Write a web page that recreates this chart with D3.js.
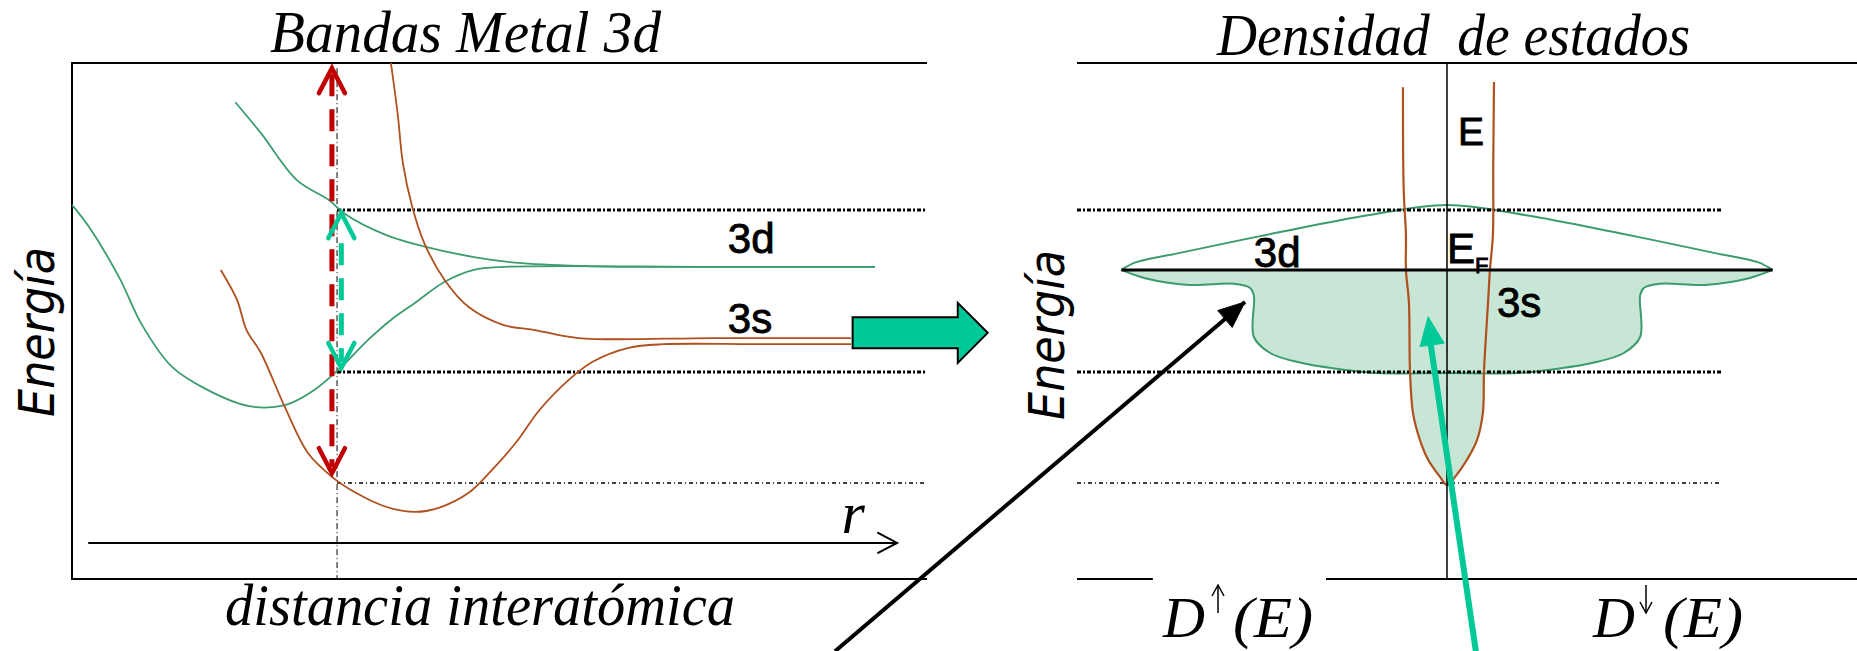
<!DOCTYPE html>
<html>
<head>
<meta charset="utf-8">
<script src="https://cdn.jsdelivr.net/npm/d3@7"></script>
<style>
  html, body { margin: 0; padding: 0; background: #fff; }
  svg { display: block; }
  .serif { font-family: 'Liberation Serif', 'Times New Roman', serif; font-style: italic; fill: #000; }
  .sans  { font-family: 'Liberation Sans', Arial, sans-serif; fill: #000; stroke: #000; stroke-width: 0.9; }
  .ener  { font-family: 'DejaVu Sans', Verdana, sans-serif; font-style: oblique; fill: #000; }
</style>
</head>
<body>
<div id="chart"></div>
<script>
// ── DATA: LEFT PANEL (r in arbitrary units 0–10, energy 0–10) ────────────────
const band3dUpper = [[1.91,9.24],[2.21,8.64],[2.63,7.73],[3.01,7.34],[3.18,7.09],[3.67,6.67],
  [4.15,6.43],[4.70,6.24],[5.26,6.12],[6.09,6.06],[7.5,6.05],[9.39,6.05]];
const band3dLower = [[0,7.25],[0.20,6.82],[0.55,5.85],[0.82,4.92],[1.17,4.11],[1.59,3.66],
  [2.07,3.35],[2.49,3.37],[2.83,3.66],[3.15,4.11],[3.46,4.63],[3.73,5.02],[4.01,5.35],
  [4.36,5.76],[4.70,5.99],[5.05,6.05],[7.5,6.05],[9.39,6.05]];
const band3sUpper = [[3.73,10.0],[3.81,9.0],[3.87,8.06],[3.98,7.21],[4.12,6.51],[4.36,5.79],
  [4.64,5.27],[5.05,4.92],[5.40,4.83],[5.92,4.67],[7.5,4.67],[9.11,4.67]];
const band3sLower = [[1.74,5.99],[1.93,5.41],[2.04,4.83],[2.21,4.38],[2.49,3.33],[2.76,2.44],
  [3.04,1.98],[3.32,1.67],[3.67,1.40],[4.01,1.30],[4.29,1.38],[4.64,1.67],[4.91,2.11],
  [5.19,2.64],[5.47,3.28],[5.81,3.86],[6.09,4.21],[6.51,4.48],[6.92,4.55],[8.0,4.55],[9.11,4.55]];
const levels      = [7.15, 4.01, 1.86];   // band top, 3d bottom, 3s bottom
const rEq         = 3.10;                 // equilibrium distance
const redArrowE   = [2.05, 9.90];
const tealArrowE  = [4.09, 7.09];
const bigArrowR   = [9.13, 10.36, 10.71]; // shaft start, head base, tip
const bigArrowE   = 4.77;

// ── DATA: RIGHT PANEL (density of states, magnitude per spin) ────────────────
const dos3dTop    = [[0,7.25],[2.14,7.05],[4.54,6.72],[7.22,6.32],[8.4,6.14],[8.8,5.99]];
const dos3dBottom = [[0,3.99],[1.89,3.99],[2.73,4.05],[3.95,4.19],[4.78,4.38],[5.22,4.69],
  [5.22,5.50],[5.32,5.64],[5.76,5.72],[6.97,5.70],[8.16,5.83],[8.8,5.99]];
const dos3sUp     = [[1.19,9.53],[1.17,7.54],[1.11,6.67],[1.11,5.99],[1.03,5.37],[1.0,4.03],
  [0.92,3.22],[0.73,2.69],[0.51,2.31],[0.19,1.98],[0,1.82]];
const dos3sDown   = [[1.27,9.63],[1.25,8.0],[1.24,6.67],[1.16,5.99],[1.11,5.37],[1.0,4.03],
  [0.97,3.22],[0.81,2.69],[0.54,2.31],[0.22,1.98],[0,1.82]];
const fermiE      = 5.99;

// ── COLOURS ──────────────────────────────────────────────────────────────────
const GREEN = '#3c9c6e', BROWN = '#b0501e', FILL = '#c8e6d5', TEAL = '#00c896', RED = '#c00000';

// ── SVG SETUP ────────────────────────────────────────────────────────────────
const W = 1857, H = 651;
const svg = d3.select('#chart').append('svg').attr('width', W).attr('height', H);

// ── SCALES ───────────────────────────────────────────────────────────────────
const xL = d3.scaleLinear().domain([0, 10]).range([72, 927]);
const xR = d3.scaleLinear().domain([-10, 10]).range([1077, 1817]);
const y  = d3.scaleLinear().domain([0, 10]).range([579, 63]);

const smooth = d3.curveCatmullRom.alpha(0.5);
const lineL = d3.line().x(d => xL(d[0])).y(d => y(d[1])).curve(smooth);
const lineR = d3.line().x(d => xR(d[0])).y(d => y(d[1])).curve(smooth);

function arrowHead(g, tip, from, len, half, color, filled, sw) {
  const dx = tip[0] - from[0], dy = tip[1] - from[1];
  const L = Math.hypot(dx, dy), ux = dx / L, uy = dy / L;
  const bx = tip[0] - ux * len, by = tip[1] - uy * len;
  const p1 = [bx - uy * half, by + ux * half], p2 = [bx + uy * half, by - ux * half];
  const p = `M${p1}L${tip}L${p2}` + (filled ? 'Z' : '');
  g.append('path').attr('d', p)
    .attr('fill', filled ? color : 'none')
    .attr('stroke', color).attr('stroke-width', sw)
    .attr('stroke-linejoin', 'miter').attr('stroke-linecap', 'round');
}

// ── LEFT PANEL ───────────────────────────────────────────────────────────────
const left = svg.append('g');

// frame (top, left, bottom)
left.append('path')
  .attr('d', `M${xL(10)},${y(10)}H${xL(0)}V${y(0)}H${xL(10)}`)
  .attr('fill', 'none').attr('stroke', '#000').attr('stroke-width', 2);

// reference levels
levels.forEach((e, i) => {
  left.append('line')
    .attr('x1', xL(rEq)).attr('x2', xL(10)).attr('y1', y(e)).attr('y2', y(e))
    .attr('stroke', '#000')
    .attr('stroke-width', i < 2 ? 3 : 1.3)
    .attr('stroke-dasharray', i < 2 ? '4,2,2,2' : '4,3,1,3');
});

// equilibrium distance (dash-dot)
left.append('line')
  .attr('x1', xL(rEq)).attr('x2', xL(rEq)).attr('y1', y(redArrowE[1])).attr('y2', y(0))
  .attr('stroke', '#000').attr('stroke-width', 1).attr('stroke-dasharray', '6,3,1,3');

// bands
[[band3dUpper, GREEN], [band3dLower, GREEN], [band3sUpper, BROWN], [band3sLower, BROWN]]
  .forEach(([d, c]) => {
    left.append('path').attr('d', lineL(d))
      .attr('fill', 'none').attr('stroke', c).attr('stroke-width', 1.8);
  });

// r axis
const rAxisE = 0.70;
left.append('line')
  .attr('x1', xL(0.19)).attr('x2', xL(9.65)).attr('y1', y(rAxisE)).attr('y2', y(rAxisE))
  .attr('stroke', '#000').attr('stroke-width', 2);
arrowHead(left, [xL(9.65), y(rAxisE)], [xL(0), y(rAxisE)], 19, 10, '#000', false, 2);

// red dashed double arrow
const xRed = xL(3.04);
left.append('line')
  .attr('x1', xRed).attr('x2', xRed).attr('y1', y(redArrowE[1]) + 6).attr('y2', y(redArrowE[0]) - 6)
  .attr('stroke', RED).attr('stroke-width', 5).attr('stroke-dasharray', '22,13');
arrowHead(left, [xRed, y(redArrowE[1])], [xRed, y(0)], 25, 13, RED, false, 4.5);
arrowHead(left, [xRed, y(redArrowE[0])], [xRed, y(10)], 25, 13, RED, false, 4.5);

// teal dashed double arrow
const xTeal = xL(3.15);
left.append('line')
  .attr('x1', xTeal).attr('x2', xTeal).attr('y1', y(tealArrowE[1]) + 30).attr('y2', y(tealArrowE[0]) - 6)
  .attr('stroke', TEAL).attr('stroke-width', 5).attr('stroke-dasharray', '22,13');
arrowHead(left, [xTeal, y(tealArrowE[1])], [xTeal, y(0)], 25, 13, TEAL, false, 4.5);
arrowHead(left, [xTeal, y(tealArrowE[0])], [xTeal, y(10)], 25, 13, TEAL, false, 4.5);

// big green block arrow
{
  const x0 = xL(bigArrowR[0]), xb = xL(bigArrowR[1]), xt = xL(bigArrowR[2]), cy = y(bigArrowE);
  const pts = [[x0, cy - 15.5], [xb, cy - 15.5], [xb, cy - 30], [xt, cy], [xb, cy + 30],
               [xb, cy + 15.5], [x0, cy + 15.5]];
  svg.append('path').attr('d', 'M' + pts.join('L') + 'Z')
    .attr('fill', TEAL).attr('stroke', '#000').attr('stroke-width', 2);
}

// labels
left.append('text').attr('class', 'sans').attr('x', xL(7.67)).attr('y', y(6.32))
  .attr('font-size', 42).text('3d');
left.append('text').attr('class', 'sans').attr('x', xL(7.67)).attr('y', y(4.77))
  .attr('font-size', 42).text('3s');
left.append('text').attr('class', 'serif').attr('x', xL(9.0)).attr('y', y(0.89))
  .attr('font-size', 60).text('r');

svg.append('text').attr('class', 'serif').attr('x', 270).attr('y', 52)
  .attr('font-size', 60).attr('textLength', 391).attr('lengthAdjust', 'spacingAndGlyphs')
  .text('Bandas Metal 3d');
svg.append('text').attr('class', 'serif').attr('x', 225).attr('y', 625)
  .attr('font-size', 60).attr('textLength', 510).attr('lengthAdjust', 'spacingAndGlyphs')
  .text('distancia interatómica');
svg.append('text').attr('class', 'ener').attr('transform', 'translate(54,332) rotate(-90)')
  .attr('text-anchor', 'middle').attr('font-size', 50)
  .attr('textLength', 170).attr('lengthAdjust', 'spacingAndGlyphs').text('Energía');

// ── RIGHT PANEL ──────────────────────────────────────────────────────────────
const right = svg.append('g');
const neg = ([d, e]) => [-d, e];

// 3d band, below Fermi level (filled)
const bottomOutline = dos3dBottom.slice().reverse().map(neg).concat(dos3dBottom.slice(1));
right.append('path').attr('d', lineR(bottomOutline) + 'Z')
  .attr('fill', FILL).attr('stroke', 'none');

// 3s band, below Fermi level (filled)
const s3Left  = dos3sUp.filter(d => d[1] <= fermiE).map(neg);
const s3Right = dos3sDown.filter(d => d[1] <= fermiE).reverse().slice(1);
right.append('path').attr('d', lineR(s3Left.concat(s3Right)) + 'Z')
  .attr('fill', FILL).attr('stroke', 'none');

// 3d outlines
right.append('path').attr('d', lineR(bottomOutline))
  .attr('fill', 'none').attr('stroke', GREEN).attr('stroke-width', 2);
const topOutline = dos3dTop.slice().reverse().map(neg).concat(dos3dTop.slice(1));
right.append('path').attr('d', lineR(topOutline))
  .attr('fill', 'none').attr('stroke', GREEN).attr('stroke-width', 2);

// reference levels
levels.forEach((e, i) => {
  right.append('line')
    .attr('x1', xR(-10)).attr('x2', xR(7.43)).attr('y1', y(e)).attr('y2', y(e))
    .attr('stroke', '#000')
    .attr('stroke-width', i < 2 ? 3 : 1.3)
    .attr('stroke-dasharray', i < 2 ? '4,2,2,2' : '4,3,1,3');
});

// 3s outline
right.append('path')
  .attr('d', lineR(dos3sUp.map(neg).concat(dos3sDown.slice().reverse().slice(1))))
  .attr('fill', 'none').attr('stroke', BROWN).attr('stroke-width', 2.2);

// Fermi level
right.append('line')
  .attr('x1', xR(-8.8)).attr('x2', xR(8.8)).attr('y1', y(fermiE)).attr('y2', y(fermiE))
  .attr('stroke', '#000').attr('stroke-width', 3);

// frame: top, energy axis, bottom (gap for label)
right.append('line').attr('x1', xR(-10)).attr('x2', xR(11.1)).attr('y1', y(10)).attr('y2', y(10))
  .attr('stroke', '#000').attr('stroke-width', 2);
right.append('line').attr('x1', xR(0)).attr('x2', xR(0)).attr('y1', y(10)).attr('y2', y(0))
  .attr('stroke', '#000').attr('stroke-width', 1.5);
[[-10, -7.95], [-3.27, 11.1]].forEach(([a, b]) => {
  right.append('line').attr('x1', xR(a)).attr('x2', xR(b)).attr('y1', y(0)).attr('y2', y(0))
    .attr('stroke', '#000').attr('stroke-width', 2);
});

// labels
right.append('text').attr('class', 'sans').attr('x', xR(-5.22)).attr('y', y(6.05))
  .attr('font-size', 42).text('3d');
right.append('text').attr('class', 'sans').attr('x', xR(1.35)).attr('y', y(5.08))
  .attr('font-size', 42).text('3s');
right.append('text').attr('class', 'sans').attr('x', xR(0.30)).attr('y', y(8.41))
  .attr('font-size', 39).text('E');
right.append('text').attr('class', 'sans').attr('x', xR(0.0)).attr('y', y(6.12))
  .attr('font-size', 42).text('E')
  .append('tspan').attr('font-size', 22).attr('dy', 10).text('F');

svg.append('text').attr('class', 'serif').attr('x', 1217).attr('y', 55)
  .attr('font-size', 60).attr('textLength', 473).attr('lengthAdjust', 'spacingAndGlyphs')
  .attr('xml:space', 'preserve').text('Densidad  de estados');
svg.append('text').attr('class', 'ener').attr('transform', 'translate(1064,335) rotate(-90)')
  .attr('text-anchor', 'middle').attr('font-size', 50)
  .attr('textLength', 170).attr('lengthAdjust', 'spacingAndGlyphs').text('Energía');

// D(E) labels with spin arrows
function dosLabel(xD, xParen, xArrow, up) {
  svg.append('text').attr('class', 'serif').attr('x', xD).attr('y', 637)
    .attr('font-size', 56).attr('textLength', 42).attr('lengthAdjust', 'spacingAndGlyphs').text('D');
  svg.append('text').attr('class', 'serif').attr('x', xParen).attr('y', 637)
    .attr('font-size', 56).attr('textLength', 80).attr('lengthAdjust', 'spacingAndGlyphs').text('(E)');
  const y0 = 585, y1 = 613;
  svg.append('line').attr('x1', xArrow).attr('x2', xArrow).attr('y1', y0).attr('y2', y1)
    .attr('stroke', '#000').attr('stroke-width', 1.5);
  const tip = up ? y0 : y1, b = up ? y0 + 11 : y1 - 11;
  svg.append('path').attr('d', `M${xArrow - 6},${b}L${xArrow},${tip}L${xArrow + 6},${b}`)
    .attr('fill', 'none').attr('stroke', '#000').attr('stroke-width', 1.5);
}
dosLabel(1163, 1233, 1218, true);
dosLabel(1593, 1663, 1646, false);

// pointer arrows
{
  const tip = [xR(-5.46), y(5.37)], from = [xR(-16.54), y(-1.40)];
  svg.append('line').attr('x1', from[0]).attr('y1', from[1]).attr('x2', tip[0]).attr('y2', tip[1])
    .attr('stroke', '#000').attr('stroke-width', 4);
  arrowHead(svg, tip, from, 26, 11, '#000', true, 1);
}
{
  const tip = [xR(-0.51), y(5.08)], from = [xR(0.78), y(-1.40)];
  svg.append('line').attr('x1', from[0]).attr('y1', from[1]).attr('x2', tip[0]).attr('y2', tip[1] + 10)
    .attr('stroke', TEAL).attr('stroke-width', 6);
  arrowHead(svg, tip, from, 28, 12, TEAL, true, 1);
}
</script>
</body>
</html>
